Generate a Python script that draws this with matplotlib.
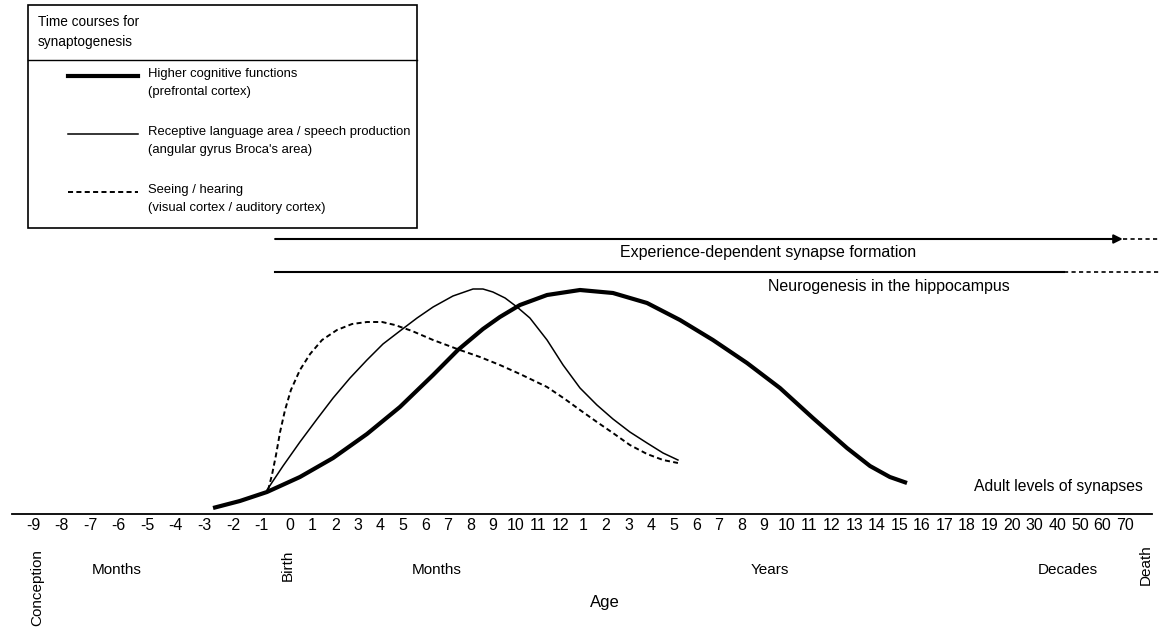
import numpy as np
import matplotlib
matplotlib.use('Agg')
import matplotlib.pyplot as plt
from matplotlib.patches import Rectangle

plt.rcParams['font.family'] = ['Liberation Sans', 'DejaVu Sans']

# age axis labels
prenatal = [-9, -8, -7, -6, -5, -4, -3, -2, -1]
months = list(range(0, 13))
years = list(range(1, 21))
decades = [30, 40, 50, 60, 70]

# curves: x = place on the age axis (0 = birth, 1 = one slot of the axis), y = relative synapse level
pfc_x = [-3.41, -2.22, -1.02, 0.44, 1.91, 3.41, 4.87, 6.34, 7.44, 8.55, 9.30, 10.19, 11.39,
         12.85, 14.31, 15.82, 17.28, 18.74, 20.25, 21.71, 23.17, 24.68, 25.70, 26.58, 27.34]
pfc_y = [6, 13, 22, 37, 56, 80, 107, 139, 164, 185, 197, 209, 219,
         224, 221, 211, 194, 174, 151, 126, 96, 66, 48, 37, 31]

lang_x = [-1.02, -0.31, 0.44, 1.20, 1.91, 2.66, 3.41, 4.12, 4.87, 5.63, 6.34, 7.22, 8.11, 8.55,
          8.99, 9.53, 10.06, 10.63, 11.39, 12.10, 12.85, 13.60, 14.31, 15.06, 15.82, 16.53, 17.19]
lang_y = [24, 48, 72, 95, 116, 136, 154, 170, 183, 196, 207, 218, 225, 225,
          222, 216, 207, 196, 174, 149, 126, 109, 95, 82, 71, 61, 54]

vis_x = [-0.97, -0.80, -0.62, -0.44, -0.22, 0.04, 0.44, 0.89, 1.42, 2.08, 2.75, 3.41, 4.08, 4.65,
         5.41, 6.34, 7.53, 8.42, 9.30, 10.19, 11.39, 12.18, 12.85, 13.60, 14.31, 15.06, 15.82,
         16.53, 17.19]
vis_y = [24, 39, 59, 82, 104, 124, 144, 160, 174, 184, 190, 192, 192, 189,
         183, 174, 164, 157, 149, 140, 127, 115, 104, 92, 81, 69, 60,
         54, 51]

# tick positions on the axis
tick_pos = ([k * 1.265 for k in prenatal] + months + [12 + y for y in years]
            + [32 + (d - 20) / 10 for d in decades])
tick_lab = [str(v) for v in prenatal + months + years + decades]

fig = plt.figure(figsize=(11.6, 6.31), dpi=100)
ax = fig.add_axes([0, 0, 1, 1])
ax.set_xlim(-12.85, 38.55)
ax.set_ylim(-117, 514)
for s in ['top', 'right', 'left']:
    ax.spines[s].set_visible(False)
ax.spines['bottom'].set_position(('data', 0))
ax.spines['bottom'].set_bounds(-12.3, 38.2)
ax.spines['bottom'].set_linewidth(1.3)
ax.set_yticks([])
ax.set_xticks(tick_pos)
ax.set_xticklabels(tick_lab, fontsize=11.5)
ax.tick_params(axis='x', length=0, pad=3)
ax.patch.set_visible(False)

ax.plot(pfc_x, pfc_y, color='k', lw=3.0, solid_capstyle='butt', solid_joinstyle='round')
ax.plot(lang_x, lang_y, color='k', lw=1.1, solid_joinstyle='round')
ax.plot(vis_x, vis_y, color='k', lw=1.4, ls=(0, (2.6, 1.7)))

# long term processes
ax.annotate('', xy=(36.9, 275), xytext=(-0.66, 275),
            arrowprops=dict(arrowstyle='-|>', lw=1.5, color='k', mutation_scale=13, shrinkA=0, shrinkB=0))
ax.plot([36.9, 38.55], [275, 275], color='k', lw=1.2, ls=(0, (2.5, 2)))
ax.plot([-0.66, 34.3], [242, 242], color='k', lw=1.5)
ax.plot([34.3, 38.55], [242, 242], color='k', lw=1.2, ls=(0, (2.5, 2)))

# text layer in pixel coordinates
ov = fig.add_axes([0, 0, 1, 1])
ov.set_xlim(0, 1160)
ov.set_ylim(631, 0)
ov.axis('off')

ov.text(768, 253, 'Experience-dependent synapse formation', fontsize=11.5, ha='center', va='center')
ov.text(768, 286, 'Neurogenesis in the hippocampus', fontsize=11.5, ha='left', va='center')
ov.text(1143, 486, 'Adult levels of synapses', fontsize=11.3, ha='right', va='center')

ov.text(37, 588, 'Conception', fontsize=11, rotation=90, ha='center', va='center')
ov.text(117, 570, 'Months', fontsize=11, ha='center', va='center')
ov.text(288, 565, 'Birth', fontsize=11, rotation=90, ha='center', va='center')
ov.text(437, 570, 'Months', fontsize=11, ha='center', va='center')
ov.text(770, 570, 'Years', fontsize=11, ha='center', va='center')
ov.text(1068, 570, 'Decades', fontsize=11, ha='center', va='center')
ov.text(1146, 565, 'Death', fontsize=11, rotation=90, ha='center', va='center')
ov.text(605, 602, 'Age', fontsize=12, ha='center', va='center')

# legend box
ov.add_patch(Rectangle((28, 5), 389, 223, fill=False, lw=1.2, color='k'))
ov.plot([28, 417], [60, 60], color='k', lw=1.0)
ov.text(38, 22, 'Time courses for', fontsize=9.8, va='center')
ov.text(38, 42, 'synaptogenesis', fontsize=9.8, va='center')

leg_items = [
    ('Higher cognitive functions', '(prefrontal cortex)', dict(lw=3.0, ls='-')),
    ('Receptive language area / speech production', "(angular gyrus Broca's area)", dict(lw=1.1, ls='-')),
    ('Seeing / hearing', '(visual cortex / auditory cortex)', dict(lw=1.4, ls=(0, (2.6, 1.7)))),
]
for i, (t1, t2, st) in enumerate(leg_items):
    yy = 76 + i * 58
    ov.plot([68, 138], [yy, yy], color='k', **st)
    ov.text(148, yy - 2, t1, fontsize=9.4, va='center')
    ov.text(148, yy + 16, t2, fontsize=9.4, va='center')

fig.savefig('out.png', dpi=100)
